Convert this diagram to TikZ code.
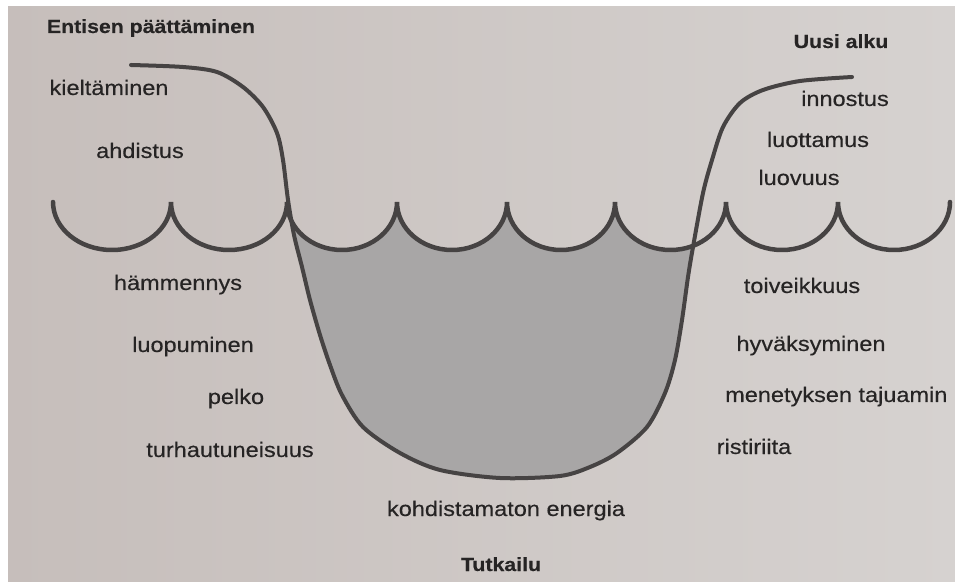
\documentclass[tikz,border=0pt]{standalone}
\usepackage{fontspec}
\setmainfont[FakeStretch=1.12, FakeBold=0.35]{Liberation Sans}
\definecolor{paper}{HTML}{D6D2D0}
\definecolor{paperdark}{HTML}{C6BEBB}
\definecolor{ink}{HTML}{262424}
\definecolor{linec}{HTML}{464343}
\definecolor{water}{HTML}{A8A6A6}
\begin{document}
\begin{tikzpicture}[x=1pt,y=1pt,
  lbl/.style={anchor=base, text=ink, font=\fontsize{21}{25}\selectfont, inner sep=0pt},
  head/.style={anchor=base, text=ink, font=\fontsize{19}{23}\selectfont\bfseries, inner sep=0pt},
  ucurve/.style={draw=linec, line width=4pt, line cap=round, line join=round},
  wave/.style={draw=linec, line width=4.5pt, line cap=round, line join=miter}]
\useasboundingbox (0,0) rectangle (955,581);
\fill[white] (0,0) rectangle (955,581);
\shade[left color=paperdark, middle color=paper, right color=paper] (8,0) rectangle (955,574);
% water fill inside the U, below the waves
\begin{scope}
\clip plot[smooth] coordinates {(131,516) (183,514) (217,509) (243,494) (263,474) (277,448) (283,421) (288,381) (294,346) (302,314) (310,281) (320,246) (330,216) (342,186) (363,154) (400,128) (440,111) (500,103) (560,105) (590,114) (617,128) (647,154) (665,188) (675,221) (682,261) (688,304) (693,334) (703,388) (712,421) (723,454) (740,478) (763,491) (800,500) (852,504)} -- cycle;
\fill[water] (53,379)
  arc[start angle=180,end angle=360,x radius=59pt,y radius=48pt]
  arc[start angle=180,end angle=360,x radius=58pt,y radius=48pt]
  arc[start angle=180,end angle=360,x radius=55pt,y radius=48pt]
  arc[start angle=180,end angle=360,x radius=55pt,y radius=48pt]
  arc[start angle=180,end angle=360,x radius=54pt,y radius=48pt]
  arc[start angle=180,end angle=360,x radius=55.5pt,y radius=48pt]
  arc[start angle=180,end angle=360,x radius=56pt,y radius=48pt]
  arc[start angle=180,end angle=360,x radius=56pt,y radius=48pt]
  -- (950,0) -- (53,0) -- cycle;
\end{scope}
% waves
\draw[wave] (53,379)
  arc[start angle=180,end angle=360,x radius=59pt,y radius=48pt]
  arc[start angle=180,end angle=360,x radius=58pt,y radius=48pt]
  arc[start angle=180,end angle=360,x radius=55pt,y radius=48pt]
  arc[start angle=180,end angle=360,x radius=55pt,y radius=48pt]
  arc[start angle=180,end angle=360,x radius=54pt,y radius=48pt]
  arc[start angle=180,end angle=360,x radius=55.5pt,y radius=48pt]
  arc[start angle=180,end angle=360,x radius=56pt,y radius=48pt]
  arc[start angle=180,end angle=360,x radius=56pt,y radius=48pt];
% U curve
\draw[ucurve] plot[smooth] coordinates {(131,516) (183,514) (217,509) (243,494) (263,474) (277,448) (283,421) (288,381) (294,346) (302,314) (310,281) (320,246) (330,216) (342,186) (363,154) (400,128) (440,111) (500,103) (560,105) (590,114) (617,128) (647,154) (665,188) (675,221) (682,261) (688,304) (693,334) (703,388) (712,421) (723,454) (740,478) (763,491) (800,500) (852,504)};
% labels
\node[head] (t1) at (151,548) {Entisen päättäminen};
\node[lbl] (k1) at (109,486) {kieltäminen};
\node[lbl] (k2) at (140,423) {ahdistus};
\node[lbl] (k3) at (178,291) {hämmennys};
\node[lbl] (k4) at (193,229) {luopuminen};
\node[lbl] (k5) at (236,177) {pelko};
\node[lbl] (k6) at (230,124) {turhautuneisuus};
\node[lbl] (c1) at (506,65) {kohdistamaton energia};
\node[head] (c2) at (501,10) {Tutkailu};
\node[head] (r0) at (841,533) {Uusi alku};
\node[lbl] (r1) at (845,475) {innostus};
\node[lbl] (r2) at (818,434) {luottamus};
\node[lbl] (r3) at (799,396) {luovuus};
\node[lbl] (r4) at (802,288) {toiveikkuus};
\node[lbl] (r5) at (811,230) {hyväksyminen};
\node[lbl, anchor=base west] (r6) at (725,179) {menetyksen tajuamin};
\node[lbl] (r7) at (754,127) {ristiriita};
\end{tikzpicture}
\end{document}
